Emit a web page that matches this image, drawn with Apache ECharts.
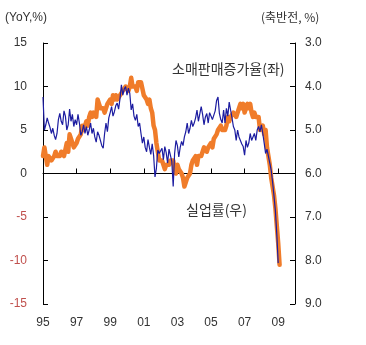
<!DOCTYPE html>
<html>
<head>
<meta charset="utf-8">
<script src="https://cdn.jsdelivr.net/npm/echarts@6/dist/echarts.min.js"></script>
<style>
  html, body { margin: 0; padding: 0; background: #fff; }
  #chart { width: 366px; height: 345px; }
</style>
</head>
<body>
<div id="chart"></div>
<script>
// Monthly series starting January 1995; x values are month offsets from that start.
const retailSalesYoY = [
  8.8, 5.0, 5.6, 6.4, 5.8, 5.3, 4.6, 5.2, 4.4, 3.9, 4.6, 6.2,   // 1995
  6.9, 6.0, 5.6, 7.2, 6.6, 5.0, 5.6, 7.4, 6.0, 6.8, 5.4, 6.2,   // 1996
  5.6, 6.8, 5.8, 4.4, 4.8, 5.6, 4.6, 5.4, 4.4, 5.0, 5.8, 4.6,   // 1997
  5.2, 4.2, 3.6, 4.8, 4.4, 3.8, 3.2, 2.9, 4.6, 5.8, 4.8, 6.4,   // 1998
  7.0, 7.7, 6.6, 7.1, 7.8, 8.1, 7.4, 8.6, 10.2, 9.0, 9.7, 10.0, // 1999
  9.0, 9.8, 9.2, 7.3, 8.0, 6.6, 6.1, 6.8, 5.4, 5.8, 4.6, 3.5,   // 2000
  4.2, 3.0, 2.5, 3.9, 3.0, 2.2, 3.4, 2.1, -0.4, 0.6, 2.7, 2.3,  // 2001
  2.3, 2.9, 1.6, 3.1, 2.4, 1.2, 2.8, 3.0, 1.4, -1.5, 2.3, 3.8,  // 2002
  3.2, 1.9, 3.0, 3.7, 3.2, 4.2, 4.8, 5.8, 4.6, 5.2, 6.1, 5.4,   // 2003
  5.8, 6.4, 7.3, 6.0, 6.1, 7.7, 6.8, 5.6, 6.5, 6.9, 5.8, 7.0,   // 2004
  7.1, 6.2, 6.0, 7.2, 8.4, 8.8, 6.9, 6.2, 5.8, 7.3, 5.8, 7.5,   // 2005
  6.6, 8.2, 7.3, 6.4, 5.4, 5.0, 3.8, 5.0, 4.2, 4.0, 3.4, 3.1,   // 2006
  2.1, 3.8, 3.0, 3.5, 4.6, 3.8, 4.2, 4.6, 3.8, 5.0, 5.4, 4.8,   // 2007
  5.6, 4.6, 3.5, 2.3, 2.8, 2.0, 1.2, 0.4, -1.0, -2.6, -4.3, -7.0, // 2008
  -10.3                                                          // 2009
];

const unemploymentRate = [
  5.6, 5.4, 5.4, 5.8, 5.6, 5.6, 5.7, 5.7, 5.6, 5.5, 5.6, 5.6,   // 1995
  5.6, 5.5, 5.5, 5.6, 5.6, 5.3, 5.5, 5.1, 5.2, 5.2, 5.4, 5.4,   // 1996
  5.3, 5.2, 5.2, 5.1, 4.9, 5.0, 4.9, 4.8, 4.9, 4.7, 4.6, 4.7,   // 1997
  4.6, 4.6, 4.7, 4.3, 4.4, 4.5, 4.5, 4.5, 4.6, 4.5, 4.4, 4.4,   // 1998
  4.3, 4.4, 4.2, 4.3, 4.2, 4.3, 4.3, 4.2, 4.2, 4.1, 4.1, 4.0,   // 1999
  4.0, 4.1, 4.0, 3.8, 4.0, 4.0, 4.0, 4.1, 3.9, 3.9, 3.9, 3.9,   // 2000
  4.2, 4.2, 4.3, 4.4, 4.3, 4.5, 4.6, 4.9, 5.0, 5.3, 5.5, 5.7,   // 2001
  5.7, 5.7, 5.7, 5.9, 5.8, 5.8, 5.8, 5.7, 5.7, 5.7, 5.9, 6.0,   // 2002
  5.8, 5.9, 5.9, 6.0, 6.1, 6.3, 6.2, 6.1, 6.1, 6.0, 5.8, 5.7,   // 2003
  5.7, 5.6, 5.8, 5.6, 5.6, 5.6, 5.5, 5.4, 5.4, 5.5, 5.4, 5.4,   // 2004
  5.3, 5.4, 5.2, 5.2, 5.1, 5.0, 5.0, 4.9, 5.0, 5.0, 5.0, 4.9,   // 2005
  4.7, 4.8, 4.7, 4.7, 4.6, 4.6, 4.7, 4.7, 4.5, 4.4, 4.5, 4.4,   // 2006
  4.6, 4.5, 4.4, 4.5, 4.4, 4.6, 4.7, 4.6, 4.7, 4.7, 4.7, 5.0,   // 2007
  5.0, 4.9, 5.1, 5.0, 5.4, 5.6, 5.8, 6.1, 6.1, 6.5, 6.8, 7.2,   // 2008
  7.6, 8.1                                                       // 2009
];

// Every second year gets a label, two-digit form.
const yearTickLabels = ['95', '97', '99', '01', '03', '05', '07', '09'];

const leftAxisTitle = '(YoY,%)';
const rightAxisTitle = '(축반전, %)';
const retailLabel = '소매판매증가율(좌)';
const unemploymentLabel = '실업률(우)';

const toPairs = arr => arr.map((v, i) => [i, v]);

const chart = echarts.init(document.getElementById('chart'), null, { renderer: 'canvas' });

const numFont = 'Liberation Sans, Arial, sans-serif';
const krFont = 'Noto Sans CJK KR, sans-serif';

chart.setOption({
  animation: false,
  backgroundColor: '#fff',
  grid: { left: 43, right: 71, top: 43, bottom: 41, containLabel: false },
  xAxis: [
    {
      // zero line with inward year ticks
      type: 'value', min: 0, max: 180, interval: 24,
      axisLine: { show: true, onZero: true, onZeroAxisIndex: 0, lineStyle: { color: '#000', width: 1 } },
      axisTick: { show: true, inside: true, length: 5, lineStyle: { color: '#000' } },
      axisLabel: { show: false },
      splitLine: { show: false }
    },
    {
      // year labels along the bottom edge
      type: 'value', min: 0, max: 180, interval: 24, position: 'bottom',
      axisLine: { show: false, onZero: false },
      axisTick: { show: false },
      splitLine: { show: false },
      axisLabel: {
        margin: 13, fontSize: 12, color: '#333', fontFamily: numFont,
        formatter: v => (v % 24 === 0 && v / 24 < yearTickLabels.length) ? yearTickLabels[v / 24] : ''
      }
    }
  ],
  yAxis: [
    {
      type: 'value', min: -15, max: 15, interval: 5, position: 'left',
      axisLine: { show: true, onZero: false, lineStyle: { color: '#000' } },
      axisTick: { show: true, inside: true, length: 5, lineStyle: { color: '#000' } },
      splitLine: { show: false },
      axisLabel: {
        margin: 16, fontSize: 12, fontFamily: numFont,
        color: v => (v < 0 ? '#c0504d' : '#333')
      }
    },
    {
      type: 'value', min: 3, max: 9, interval: 1, position: 'right', inverse: true,
      axisLine: { show: true, onZero: false, lineStyle: { color: '#000' } },
      axisTick: { show: true, inside: true, length: 5, lineStyle: { color: '#000' } },
      splitLine: { show: false },
      axisLabel: {
        margin: 10, fontSize: 12, color: '#333', fontFamily: numFont,
        formatter: v => v.toFixed(1)
      }
    }
  ],
  series: [
    {
      name: unemploymentLabel, type: 'line', xAxisIndex: 0, yAxisIndex: 1,
      data: toPairs(unemploymentRate), showSymbol: false, z: 2,
      lineStyle: { color: '#f07c2a', width: 4.5, join: 'round', cap: 'round' }
    },
    {
      name: retailLabel, type: 'line', xAxisIndex: 0, yAxisIndex: 0,
      data: toPairs(retailSalesYoY), showSymbol: false, z: 3,
      lineStyle: { color: '#1c1ca0', width: 1.2 }
    }
  ],
  graphic: [
    { type: 'text', left: 5, top: 12, style: { text: leftAxisTitle, font: '12px ' + numFont, fill: '#333' } },
    { type: 'text', left: 261, top: 11, style: { text: rightAxisTitle, font: '12px ' + krFont, fill: '#333' } },
    { type: 'text', left: 172, top: 62, style: { text: retailLabel, font: '14px ' + krFont, fill: '#333' } },
    { type: 'text', left: 186, top: 203, style: { text: unemploymentLabel, font: '14px ' + krFont, fill: '#333' } }
  ]
});
</script>
</body>
</html>
